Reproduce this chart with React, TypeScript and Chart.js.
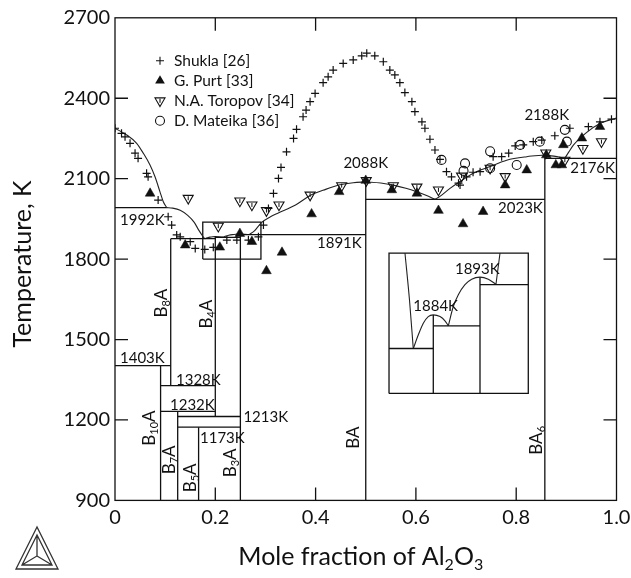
import React, { useEffect, useRef } from 'react';
import { Chart, registerables } from 'chart.js';

Chart.register(...registerables);

const FONT = 'Lato, "Open Sans", "DejaVu Sans", sans-serif';
const INK = '#111';

// ---------- axes ----------
const X_RANGE = [0, 1];
const T_RANGE = [900, 2700];
const X_STEP = 0.2;
const T_STEP = 300;

// ---------- experimental points: [mole fraction Al2O3, T / K] ----------
const shukla = [
  [0.0, 2288], [0.013, 2269], [0.02, 2256], [0.03, 2232], [0.04, 2195], [0.046, 2176],
  [0.063, 2120], [0.066, 2107], [0.086, 2020], [0.106, 1958], [0.113, 1927], [0.123, 1890],
  [0.13, 1883], [0.15, 1865], [0.16, 1840], [0.179, 1836], [0.196, 1844], [0.223, 1871],
  [0.243, 1871], [0.266, 1871], [0.286, 1883], [0.296, 1927], [0.306, 1989], [0.316, 2045],
  [0.326, 2101], [0.331, 2142], [0.342, 2200], [0.356, 2250], [0.362, 2284], [0.375, 2331],
  [0.381, 2356], [0.389, 2387], [0.399, 2418], [0.415, 2458], [0.425, 2480], [0.435, 2505],
  [0.455, 2530], [0.475, 2543], [0.492, 2558], [0.502, 2568], [0.518, 2558], [0.535, 2536],
  [0.548, 2505], [0.558, 2487], [0.568, 2458], [0.578, 2421], [0.592, 2387], [0.598, 2350],
  [0.612, 2312], [0.618, 2288], [0.628, 2247], [0.638, 2207], [0.648, 2172], [0.661, 2126],
  [0.671, 2107], [0.685, 2083], [0.688, 2076], [0.701, 2107], [0.714, 2124], [0.728, 2126],
  [0.754, 2182], [0.771, 2182], [0.785, 2195], [0.798, 2222], [0.814, 2226], [0.834, 2238],
  [0.851, 2244], [0.877, 2260], [0.907, 2288], [0.944, 2294], [0.967, 2312], [0.99, 2322],
];
const purt = [
  [0.07, 2045], [0.14, 1852], [0.209, 1844], [0.249, 1895], [0.273, 1865], [0.302, 1756],
  [0.333, 1825], [0.392, 1968], [0.447, 2051], [0.5, 2093], [0.552, 2058], [0.602, 2045],
  [0.645, 1981], [0.694, 1931], [0.734, 1977], [0.778, 2076], [0.821, 2132], [0.86, 2188],
  [0.879, 2151], [0.891, 2151], [0.894, 2226], [0.931, 2251], [0.967, 2294],
];
const toropov = [
  [0.146, 2027], [0.206, 1923], [0.249, 2017], [0.273, 2002], [0.302, 1981], [0.327, 2002],
  [0.389, 2039], [0.452, 2074], [0.501, 2093], [0.555, 2074], [0.602, 2069], [0.645, 2058],
  [0.691, 2110], [0.748, 2139], [0.778, 2108], [0.859, 2196], [0.897, 2169], [0.933, 2213],
  [0.97, 2238],
];
const mateika = [
  [0.651, 2170], [0.698, 2157], [0.695, 2129], [0.748, 2202], [0.748, 2139], [0.801, 2151],
  [0.808, 2226], [0.847, 2238], [0.897, 2282], [0.901, 2238],
];
const legendNames = ['Shukla [26]', 'G. Purt [33]', 'N.A. Toropov [34]', 'D. Mateika [36]'];

// ---------- calculated liquidus ----------
const liqB = [[0, 2288], [0.0233, 2263], [0.0432, 2232], [0.0564, 2195], [0.0698, 2151], [0.0798, 2107], [0.0897, 2051], [0.0963, 2014], [0.103, 1992]];
const liqB8A = [[0.103, 1992], [0.115, 1990], [0.13, 1982], [0.145, 1963], [0.158, 1937], [0.167, 1908], [0.174, 1888], [0.1786, 1876]];
const liqB4A = [[0.1786, 1876], [0.1839, 1879.2], [0.1893, 1882], [0.1946, 1883.6], [0.2, 1884], [0.2072, 1883.6], [0.2125, 1882.6], [0.2161, 1881.4]];
const liqB3A = [[0.2161, 1881.4], [0.2214, 1886], [0.2268, 1888.8], [0.2339, 1891.2], [0.2411, 1892.5], [0.25, 1893], [0.2589, 1892.5], [0.2671, 1891.3]];
const liqBAleft = [[0.2671, 1891.3], [0.278, 1905], [0.2925, 1937], [0.31, 1958], [0.3256, 1972], [0.36, 2002], [0.389, 2037], [0.42, 2060], [0.4487, 2077], [0.475, 2085], [0.5, 2088]];
const liqBAright = [[0.5, 2088], [0.53, 2084], [0.555, 2076], [0.58, 2064], [0.6016, 2051], [0.62, 2038], [0.638, 2023]];
const liqBA6left = [[0.638, 2023], [0.648, 2034], [0.668, 2064], [0.688, 2089], [0.7145, 2120], [0.748, 2145], [0.781, 2169], [0.821, 2182], [0.857, 2188]];
const liqBA6right = [[0.857, 2188], [0.875, 2184], [0.897, 2176]];
const liqA = [[0.897, 2176], [0.905, 2200], [0.914, 2225], [0.94, 2272], [0.967, 2306], [1, 2326]];
const liqInsetLeft = [[0.1697, 1898.7], [0.1745, 1887.6], [0.1786, 1875.9]];
const liqInsetRight = [[0.2671, 1891.3], [0.2714, 1898.7]];

// ---------- invariant lines ----------
const invT = [1992, 1876, 1881.4, 1891.2, 2023, 2176, 1403, 1328, 1232, 1213, 1173];
const invX0 = [0, 0.1111, 0.2, 0.25, 0.5, 0.8571, 0, 0.0909, 0.0909, 0.125, 0.125];
const invX1 = [0.103, 0.2, 0.25, 0.5, 0.8571, 1, 0.1111, 0.2, 0.2, 0.25, 0.25];

// ---------- compounds ----------
const compX = [0.0909, 0.1111, 0.125, 0.1667, 0.2, 0.25, 0.5, 0.8571];
const compTop = [1403, 1876, 1232, 1173, 1884, 1893, 2088, 2188];
const compBottom = [900, 1328, 900, 900, 1213, 900, 900, 900];
const compNames = [
  [['B', 0], ['10', 1], ['A', 0]], [['B', 0], ['8', 1], ['A', 0]], [['B', 0], ['7', 1], ['A', 0]],
  [['B', 0], ['5', 1], ['A', 0]], [['B', 0], ['4', 1], ['A', 0]], [['B', 0], ['3', 1], ['A', 0]],
  [['BA', 0]], [['BA', 0], ['6', 1]],
];
const compLabelX = [0.068, 0.0927, 0.108, 0.15, 0.183, 0.231, 0.475, 0.841];
const compLabelT = [1170, 1636, 1051, 984, 1595, 1040, 1134, 1124];

// ---------- temperature labels ----------
const tempLabels = ['1992K', '1891K', '2088K', '2023K', '2188K', '2176K', '1403K', '1328K', '1232K', '1213K', '1173K'];
const tempLabelX = [0.01, 0.4028, 0.5, 0.853, 0.861, 0.997, 0.01, 0.1216, 0.1097, 0.256, 0.1695];
const tempLabelT = [1946, 1859, 2157, 1989, 2337, 2141, 1430, 1349, 1255, 1210, 1131];
const tempLabelAlign = ['left', 'left', 'center', 'right', 'center', 'right', 'left', 'left', 'left', 'left', 'left'];

// ---------- magnified region and inset ----------
const zoomBoxX = [0.175, 0.291];
const zoomBoxT = [1800, 1938];
const insetX = [0.1526, 0.3017];
const insetT = [1865.3, 1898.7];
const insetAtX = [0.5464, 0.8241];
const insetAtT = [1299, 1822];
const insetLabels = ['1884K', '1893K'];
const insetLabelX = [0.1786, 0.2232];
const insetLabelT = [1886, 1895];

type Part = [string, number];

function drawRich(ctx: CanvasRenderingContext2D, parts: Part[], x: number, y: number, size: number, rot: number, align: string) {
  ctx.save();
  ctx.translate(x, y);
  ctx.rotate(rot);
  const main = `${size}px ${FONT}`;
  const sub = `${Math.round(size * 0.64)}px ${FONT}`;
  let w = 0;
  parts.forEach(([t, s]) => { ctx.font = s ? sub : main; w += ctx.measureText(t).width; });
  let cx = align === 'left' ? 0 : align === 'right' ? -w : -w / 2;
  ctx.textBaseline = 'middle';
  ctx.textAlign = 'left';
  ctx.fillStyle = INK;
  parts.forEach(([t, s]) => {
    ctx.font = s ? sub : main;
    ctx.fillText(t, cx, s ? size * 0.3 : 0);
    cx += ctx.measureText(t).width;
  });
  ctx.restore();
}

const pts = (a: number[][]) => a.map(([x, y]) => ({ x, y }));

function lineDs(a: number[][], opts: any = {}) {
  return {
    data: pts(a), showLine: true, pointRadius: 0, borderColor: INK, borderWidth: 1.3,
    fill: false, tension: 0, order: 2, ...opts,
  };
}
function curveDs(a: number[][], opts: any = {}) {
  return lineDs(a, { cubicInterpolationMode: 'monotone', borderWidth: 1.1, borderColor: '#222', ...opts });
}

export default function App() {
  const ref = useRef<HTMLCanvasElement | null>(null);

  useEffect(() => {
    if (!ref.current) return;

    const kx = (insetX[1] - insetX[0]) / (insetAtX[1] - insetAtX[0]);
    const xiMin = insetX[0] - (insetAtX[0] - X_RANGE[0]) * kx;
    const xiMax = insetX[0] + (X_RANGE[1] - insetAtX[0]) * kx;
    const kt = (insetT[1] - insetT[0]) / (insetAtT[1] - insetAtT[0]);
    const yiMin = insetT[0] - (insetAtT[0] - T_RANGE[0]) * kt;
    const yiMax = insetT[0] + (T_RANGE[1] - insetAtT[0]) * kt;
    const IN = { xAxisID: 'xi', yAxisID: 'yi' };

    const datasets: any[] = [];
    invT.forEach((t, i) => datasets.push(lineDs([[invX0[i], t], [invX1[i], t]])));
    compX.forEach((x, i) => datasets.push(lineDs([[x, compBottom[i]], [x, compTop[i]]])));
    [liqB, liqB8A, liqB4A, liqB3A, liqBAleft, liqBAright, liqBA6left, liqBA6right, liqA].forEach((s) => datasets.push(curveDs(s)));
    datasets.push(lineDs([[zoomBoxX[0], zoomBoxT[0]], [zoomBoxX[1], zoomBoxT[0]], [zoomBoxX[1], zoomBoxT[1]], [zoomBoxX[0], zoomBoxT[1]], [zoomBoxX[0], zoomBoxT[0]]]));
    // inset
    datasets.push(lineDs([[insetX[0], insetT[0]], [insetX[1], insetT[0]], [insetX[1], insetT[1]], [insetX[0], insetT[1]], [insetX[0], insetT[0]]], IN));
    datasets.push(lineDs([[insetX[0], invT[1]], [0.2, invT[1]]], IN));
    datasets.push(lineDs([[0.2, invT[2]], [0.25, invT[2]]], IN));
    datasets.push(lineDs([[0.25, invT[3]], [insetX[1], invT[3]]], IN));
    datasets.push(lineDs([[0.2, insetT[0]], [0.2, compTop[4]]], IN));
    datasets.push(lineDs([[0.25, insetT[0]], [0.25, compTop[5]]], IN));
    [liqInsetLeft, liqB4A, liqB3A, liqInsetRight].forEach((s) => datasets.push(curveDs(s, IN)));

    // experimental
    datasets.push({ data: pts(shukla), pointStyle: 'cross', pointRadius: 4, pointBorderWidth: 1.2, pointBorderColor: INK, order: 0 });
    datasets.push({ data: pts(purt), pointStyle: 'triangle', pointRadius: 5.6, pointBorderWidth: 0.5, pointBorderColor: INK, pointBackgroundColor: INK, order: 0 });
    datasets.push({ data: pts(toropov), pointStyle: 'triangle', pointRotation: 180, pointRadius: 5.8, pointBorderWidth: 1.1, pointBorderColor: INK, pointBackgroundColor: 'rgba(255,255,255,0)', order: 0 });
    datasets.push({ data: pts(toropov), pointStyle: 'line', pointRotation: 90, pointRadius: 2, pointBorderWidth: 1, pointBorderColor: INK, order: 0 });
    datasets.push({ data: pts(mateika), pointStyle: 'circle', pointRadius: 4.5, pointBorderWidth: 1.1, pointBorderColor: INK, pointBackgroundColor: 'rgba(255,255,255,0)', order: 0 });

    const decor = {
      id: 'decor',
      afterDatasetsDraw(chart: any) {
        const { ctx, chartArea: a, scales } = chart;
        const sx = scales.x, sy = scales.y, ix = scales.xi, iy = scales.yi;
        ctx.save();
        ctx.strokeStyle = INK;
        ctx.lineWidth = 1.3;
        ctx.strokeRect(a.left, a.top, a.right - a.left, a.bottom - a.top);
        const TL = 13;
        ctx.beginPath();
        for (let v = X_RANGE[0] + X_STEP; v < X_RANGE[1] - 1e-9; v += X_STEP) {
          const p = sx.getPixelForValue(v);
          ctx.moveTo(p, a.bottom); ctx.lineTo(p, a.bottom - TL);
          ctx.moveTo(p, a.top); ctx.lineTo(p, a.top + TL);
        }
        for (let v = T_RANGE[0] + T_STEP; v < T_RANGE[1] - 1e-9; v += T_STEP) {
          const p = sy.getPixelForValue(v);
          ctx.moveTo(a.left, p); ctx.lineTo(a.left + TL, p);
          ctx.moveTo(a.right, p); ctx.lineTo(a.right - TL, p);
        }
        ctx.stroke();

        // temperature labels
        ctx.fillStyle = INK;
        ctx.textBaseline = 'middle';
        ctx.font = `15px ${FONT}`;
        tempLabels.forEach((t, i) => {
          ctx.textAlign = tempLabelAlign[i];
          ctx.fillText(t, sx.getPixelForValue(tempLabelX[i]), sy.getPixelForValue(tempLabelT[i]));
        });
        ctx.textAlign = 'left';
        insetLabels.forEach((t, i) => {
          ctx.fillText(t, ix.getPixelForValue(insetLabelX[i]), iy.getPixelForValue(insetLabelT[i]));
        });
        compNames.forEach((parts, i) => {
          drawRich(ctx, parts as Part[], sx.getPixelForValue(compLabelX[i]), sy.getPixelForValue(compLabelT[i]), 17, -Math.PI / 2, 'center');
        });

        // legend
        const lx = a.left + 45, ly0 = a.top + 43, dy = 20;
        ctx.font = `15.5px ${FONT}`;
        legendNames.forEach((name, i) => {
          const y = ly0 + i * dy;
          ctx.strokeStyle = INK; ctx.fillStyle = INK; ctx.lineWidth = 1.1;
          ctx.beginPath();
          if (i === 0) {
            ctx.moveTo(lx - 4, y); ctx.lineTo(lx + 4, y); ctx.moveTo(lx, y - 4); ctx.lineTo(lx, y + 4); ctx.stroke();
          } else if (i === 1) {
            const r = 5.6;
            ctx.moveTo(lx, y - r); ctx.lineTo(lx + r * 0.866, y + r / 2); ctx.lineTo(lx - r * 0.866, y + r / 2); ctx.closePath(); ctx.fill();
          } else if (i === 2) {
            const r = 5.8;
            ctx.moveTo(lx, y + r); ctx.lineTo(lx + r * 0.866, y - r / 2); ctx.lineTo(lx - r * 0.866, y - r / 2); ctx.closePath(); ctx.stroke();
            ctx.beginPath(); ctx.moveTo(lx, y - 2); ctx.lineTo(lx, y + 2); ctx.stroke();
          } else {
            ctx.arc(lx, y, 4.5, 0, Math.PI * 2); ctx.stroke();
          }
          ctx.textAlign = 'left';
          ctx.fillText(name, lx + 14, y);
        });
        ctx.restore();
      },
      afterDraw(chart: any) {
        const { ctx, chartArea: a } = chart;
        ctx.save();
        drawRich(ctx, [['Temperature, K', 0]], 23, 264, 25, -Math.PI / 2, 'center');
        drawRich(ctx, [['Mole fraction of Al', 0], ['2', 1], ['O', 0], ['3', 1]], (a.left + a.right) / 2 - 5, 557, 25, 0, 'center');
        // logo
        ctx.strokeStyle = '#333'; ctx.lineWidth = 1.3;
        ctx.beginPath();
        ctx.moveTo(37, 527); ctx.lineTo(16, 569); ctx.lineTo(58, 569); ctx.closePath();
        ctx.moveTo(37, 535); ctx.lineTo(22, 565); ctx.lineTo(52, 565); ctx.closePath();
        ctx.moveTo(37, 535); ctx.lineTo(37, 556); ctx.lineTo(22, 565);
        ctx.moveTo(37, 556); ctx.lineTo(52, 565);
        ctx.stroke();
        ctx.restore();
      },
    };

    const tickFont = { family: FONT, size: 20 };
    const chart = new Chart(ref.current, {
      type: 'scatter',
      data: { datasets },
      options: {
        animation: false,
        responsive: false,
        events: [],
        layout: { padding: { left: 0, right: 14.5, top: 17.8, bottom: 0 } },
        plugins: { legend: { display: false }, tooltip: { enabled: false } },
        scales: {
          x: {
            type: 'linear', min: X_RANGE[0], max: X_RANGE[1],
            ticks: { stepSize: X_STEP, padding: 5, color: INK, font: tickFont, callback: (v: any) => (Number(v) === 0 ? '0' : Number(v).toFixed(1)) },
            grid: { display: false, drawTicks: false },
            border: { display: false },
            afterFit: (s: any) => { s.height = 77.6; s.paddingLeft = 0; s.paddingRight = 0; },
          },
          y: {
            type: 'linear', min: T_RANGE[0], max: T_RANGE[1],
            ticks: { stepSize: T_STEP, padding: 5, color: INK, font: tickFont, callback: (v: any) => String(v) },
            grid: { display: false, drawTicks: false },
            border: { display: false },
            afterFit: (s: any) => { s.width = 115; s.paddingTop = 0; s.paddingBottom = 0; },
          },
          xi: { type: 'linear', display: false, min: xiMin, max: xiMax },
          yi: { type: 'linear', display: false, min: yiMin, max: yiMax, position: 'left' },
        },
      } as any,
      plugins: [decor],
    });
    return () => chart.destroy();
  }, []);

  return (
    <div style={{ position: 'absolute', left: 0, top: 0, width: 631, height: 578, background: '#fff' }}>
      <canvas ref={ref} width={631} height={578} />
    </div>
  );
}
